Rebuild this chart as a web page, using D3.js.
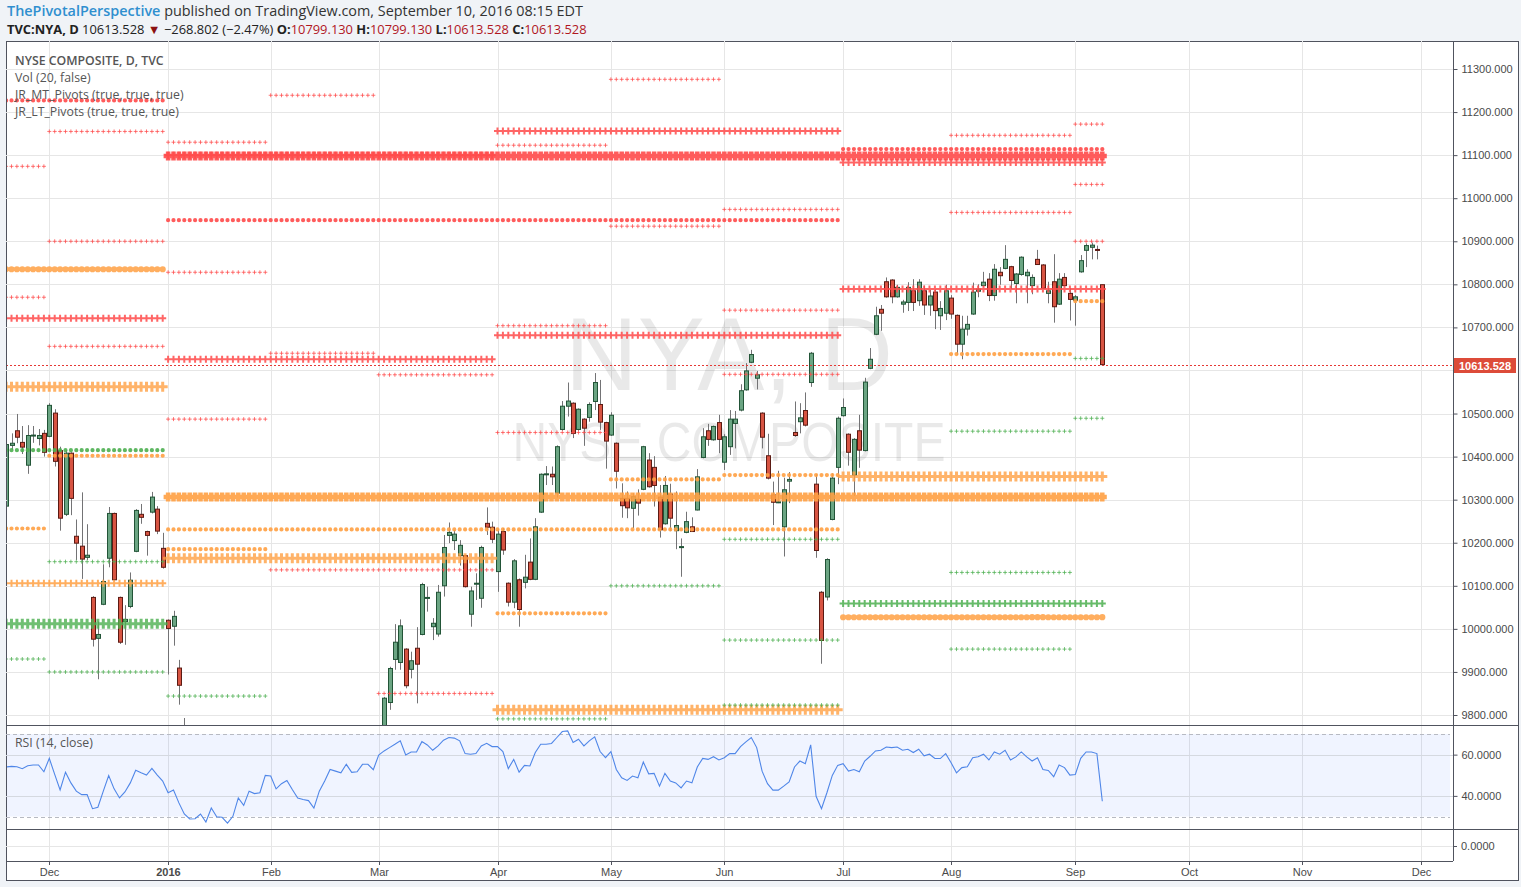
<!DOCTYPE html>
<html>
<head>
<meta charset="utf-8">
<script src="https://cdn.jsdelivr.net/npm/d3@7"></script>
<style>
  body { margin: 0; background: #f0f3f7; }
  svg { display: block; font-family: "Open Sans", sans-serif; }
</style>
</head>
<body>
<script>
// ---- data ----------------------------------------------------------------
const lastBar = "2016-09-09";
const holidays = ["2015-11-26", "2015-12-25", "2016-01-01", "2016-01-18", "2016-02-15",
  "2016-03-25", "2016-05-30", "2016-07-04", "2016-09-05"];

// [date, open, high, low, close]  (bars between Jan 8 and Mar 1 sit below the pane)
const ohlc = [
  ["2015-11-18", 10285, 10432, 10280, 10428], ["2015-11-19", 10426, 10454, 10415, 10431],
  ["2015-11-20", 10460, 10499, 10431, 10445], ["2015-11-23", 10433, 10471, 10406, 10422],
  ["2015-11-24", 10380, 10473, 10360, 10449], ["2015-11-25", 10449, 10471, 10432, 10450],
  ["2015-11-27", 10442, 10464, 10426, 10449], ["2015-11-30", 10454, 10462, 10400, 10410],
  ["2015-12-01", 10447, 10524, 10445, 10519], ["2015-12-02", 10501, 10510, 10377, 10389],
  ["2015-12-03", 10414, 10423, 10228, 10257], ["2015-12-04", 10266, 10415, 10262, 10408],
  ["2015-12-07", 10408, 10410, 10264, 10303], ["2015-12-08", 10215, 10254, 10160, 10199],
  ["2015-12-09", 10192, 10317, 10116, 10162], ["2015-12-10", 10166, 10243, 10160, 10171],
  ["2015-12-11", 10073, 10076, 9959, 9976], ["2015-12-14", 9978, 10017, 9883, 9987],
  ["2015-12-15", 10057, 10150, 10055, 10110], ["2015-12-16", 10164, 10283, 10143, 10268],
  ["2015-12-17", 10268, 10270, 10112, 10114], ["2015-12-18", 10073, 10075, 9965, 9969],
  ["2015-12-21", 10017, 10055, 9963, 10022], ["2015-12-22", 10052, 10131, 10048, 10113],
  ["2015-12-23", 10180, 10278, 10178, 10275], ["2015-12-24", 10266, 10290, 10244, 10259],
  ["2015-12-28", 10226, 10228, 10170, 10217], ["2015-12-29", 10271, 10318, 10268, 10306],
  ["2015-12-30", 10278, 10285, 10220, 10227], ["2015-12-31", 10187, 10223, 10140, 10143],
  ["2016-01-04", 10020, 10022, 9894, 10001], ["2016-01-05", 10006, 10042, 9961, 10029],
  ["2016-01-06", 9909, 9928, 9824, 9869], ["2016-01-07", 9740, 9793, 9660, 9700],
  ["2016-03-02", 9760, 9842, 9740, 9839], ["2016-03-03", 9829, 9912, 9812, 9908],
  ["2016-03-04", 9929, 10011, 9905, 9969], ["2016-03-07", 9922, 10022, 9905, 10007],
  ["2016-03-08", 9953, 9955, 9862, 9868], ["2016-03-09", 9906, 9947, 9885, 9926],
  ["2016-03-10", 9955, 10004, 9827, 9918], ["2016-03-11", 9987, 10107, 9985, 10103],
  ["2016-03-14", 10072, 10098, 10040, 10073], ["2016-03-15", 10005, 10025, 9974, 10013],
  ["2016-03-16", 9988, 10102, 9982, 10085], ["2016-03-17", 10100, 10218, 10075, 10189],
  ["2016-03-18", 10217, 10247, 10199, 10224], ["2016-03-21", 10205, 10230, 10183, 10220],
  ["2016-03-22", 10170, 10206, 10147, 10194], ["2016-03-23", 10170, 10172, 10096, 10098],
  ["2016-03-24", 10034, 10098, 10005, 10088], ["2016-03-28", 10105, 10129, 10067, 10106],
  ["2016-03-29", 10071, 10193, 10049, 10189], ["2016-03-30", 10245, 10282, 10218, 10236],
  ["2016-03-31", 10236, 10249, 10199, 10208], ["2016-04-01", 10133, 10231, 10086, 10220],
  ["2016-04-04", 10226, 10234, 10172, 10183], ["2016-04-05", 10106, 10108, 10052, 10062],
  ["2016-04-06", 10062, 10162, 10048, 10158], ["2016-04-07", 10114, 10117, 10005, 10045],
  ["2016-04-08", 10108, 10172, 10094, 10120], ["2016-04-11", 10155, 10210, 10113, 10115],
  ["2016-04-12", 10115, 10257, 10113, 10237], ["2016-04-13", 10271, 10361, 10269, 10359],
  ["2016-04-14", 10359, 10378, 10334, 10360], ["2016-04-15", 10359, 10377, 10334, 10353],
  ["2016-04-18", 10315, 10426, 10305, 10423], ["2016-04-19", 10463, 10529, 10460, 10517],
  ["2016-04-20", 10517, 10572, 10493, 10529], ["2016-04-21", 10524, 10526, 10443, 10454],
  ["2016-04-22", 10463, 10512, 10460, 10510], ["2016-04-25", 10487, 10489, 10425, 10466],
  ["2016-04-26", 10491, 10526, 10481, 10521], ["2016-04-27", 10528, 10594, 10508, 10572],
  ["2016-04-28", 10521, 10578, 10462, 10480], ["2016-04-29", 10479, 10481, 10372, 10436],
  ["2016-05-02", 10450, 10503, 10448, 10496], ["2016-05-03", 10431, 10433, 10326, 10366],
  ["2016-05-04", 10303, 10338, 10258, 10286], ["2016-05-05", 10303, 10319, 10257, 10281],
  ["2016-05-06", 10280, 10315, 10234, 10307], ["2016-05-09", 10301, 10324, 10263, 10292],
  ["2016-05-10", 10324, 10425, 10322, 10423], ["2016-05-11", 10392, 10408, 10328, 10330],
  ["2016-05-12", 10375, 10401, 10284, 10333], ["2016-05-13", 10306, 10334, 10212, 10230],
  ["2016-05-16", 10244, 10355, 10242, 10333], ["2016-05-17", 10313, 10337, 10227, 10257],
  ["2016-05-18", 10228, 10319, 10185, 10240], ["2016-05-19", 10191, 10210, 10121, 10191],
  ["2016-05-20", 10224, 10272, 10222, 10249], ["2016-05-23", 10237, 10259, 10225, 10226],
  ["2016-05-24", 10276, 10371, 10275, 10353], ["2016-05-25", 10398, 10466, 10396, 10446],
  ["2016-05-26", 10460, 10476, 10425, 10440], ["2016-05-27", 10439, 10472, 10437, 10470],
  ["2016-05-31", 10479, 10497, 10408, 10440], ["2016-06-01", 10387, 10452, 10369, 10446],
  ["2016-06-02", 10423, 10508, 10404, 10487], ["2016-06-03", 10477, 10506, 10419, 10487],
  ["2016-06-06", 10508, 10568, 10505, 10553], ["2016-06-07", 10555, 10617, 10553, 10599],
  ["2016-06-08", 10619, 10648, 10617, 10637], ["2016-06-09", 10582, 10599, 10556, 10590],
  ["2016-06-10", 10501, 10503, 10419, 10445], ["2016-06-13", 10402, 10453, 10347, 10350],
  ["2016-06-14", 10311, 10342, 10241, 10294], ["2016-06-15", 10295, 10367, 10292, 10295],
  ["2016-06-16", 10237, 10351, 10168, 10323], ["2016-06-17", 10343, 10364, 10292, 10347],
  ["2016-06-20", 10456, 10528, 10446, 10449], ["2016-06-21", 10481, 10524, 10454, 10490],
  ["2016-06-22", 10507, 10549, 10470, 10473], ["2016-06-23", 10572, 10643, 10562, 10640],
  ["2016-06-24", 10336, 10359, 10165, 10182], ["2016-06-27", 10085, 10088, 9919, 9973],
  ["2016-06-28", 10074, 10164, 10066, 10161], ["2016-06-29", 10254, 10361, 10252, 10350],
  ["2016-06-30", 10375, 10493, 10336, 10489], ["2016-07-01", 10495, 10535, 10493, 10514],
  ["2016-07-05", 10452, 10454, 10379, 10410], ["2016-07-06", 10357, 10443, 10309, 10440],
  ["2016-07-07", 10460, 10497, 10374, 10415], ["2016-07-08", 10414, 10583, 10412, 10573],
  ["2016-07-11", 10605, 10652, 10603, 10626], ["2016-07-12", 10684, 10748, 10682, 10727],
  ["2016-07-13", 10742, 10752, 10692, 10733], ["2016-07-14", 10806, 10816, 10769, 10771],
  ["2016-07-15", 10810, 10812, 10756, 10771], ["2016-07-18", 10771, 10799, 10769, 10793],
  ["2016-07-19", 10754, 10764, 10734, 10759], ["2016-07-20", 10758, 10805, 10738, 10793],
  ["2016-07-21", 10785, 10812, 10738, 10758], ["2016-07-22", 10762, 10812, 10750, 10805],
  ["2016-07-25", 10785, 10797, 10729, 10752], ["2016-07-26", 10752, 10787, 10727, 10773],
  ["2016-07-27", 10782, 10788, 10696, 10739], ["2016-07-28", 10727, 10761, 10694, 10744],
  ["2016-07-29", 10733, 10799, 10717, 10785], ["2016-08-01", 10768, 10775, 10720, 10731],
  ["2016-08-02", 10728, 10730, 10636, 10661], ["2016-08-03", 10661, 10727, 10626, 10696],
  ["2016-08-04", 10696, 10727, 10681, 10707], ["2016-08-05", 10731, 10804, 10729, 10782],
  ["2016-08-08", 10784, 10800, 10770, 10789], ["2016-08-09", 10797, 10829, 10795, 10805],
  ["2016-08-10", 10812, 10826, 10761, 10774], ["2016-08-11", 10774, 10847, 10762, 10835],
  ["2016-08-12", 10828, 10840, 10799, 10820], ["2016-08-15", 10837, 10891, 10835, 10858],
  ["2016-08-16", 10841, 10843, 10789, 10809], ["2016-08-17", 10802, 10826, 10756, 10824],
  ["2016-08-18", 10823, 10865, 10820, 10863], ["2016-08-19", 10820, 10835, 10756, 10828],
  ["2016-08-22", 10797, 10823, 10777, 10816], ["2016-08-23", 10858, 10880, 10845, 10846],
  ["2016-08-24", 10845, 10847, 10789, 10791], ["2016-08-25", 10779, 10806, 10756, 10785],
  ["2016-08-26", 10806, 10870, 10711, 10748], ["2016-08-29", 10754, 10826, 10752, 10812],
  ["2016-08-30", 10816, 10826, 10795, 10797], ["2016-08-31", 10779, 10791, 10716, 10765],
  ["2016-09-01", 10763, 10775, 10704, 10771], ["2016-09-02", 10829, 10868, 10827, 10855],
  ["2016-09-06", 10879, 10895, 10840, 10890], ["2016-09-07", 10886, 10897, 10858, 10891],
  ["2016-09-08", 10881, 10890, 10858, 10880], ["2016-09-09", 10799.13, 10799.13, 10613.528, 10613.528]
];

// RSI(14) one value per trading day starting at rsiStart
const rsiStart = "2015-11-18";
const rsiValues = [
  54.0, 54.3, 54.1, 53.2, 54.6, 55.0, 55.0, 51.7, 58.2, 50.4,
  42.9, 51.5, 46.3, 42.3, 40.6, 40.6, 33.8, 34.5, 42.3, 49.9,
  43.4, 39.0, 41.9, 46.3, 52.4, 51.2, 50.1, 53.3, 50.1, 47.2,
  41.5, 42.8, 36.6, 31.2, 28.8, 28.9, 31.2, 27.3, 34.1, 29.9,
  29.6, 26.8, 30.1, 39.0, 35.4, 42.3, 41.1, 41.5, 49.9, 49.6,
  43.4, 45.9, 47.5, 43.1, 39.0, 38.2, 37.7, 34.1, 42.3, 47.2,
  52.8, 52.0, 51.2, 55.3, 51.4, 51.7, 55.3, 55.3, 52.7, 59.8,
  61.8, 63.4, 65.0, 66.7, 59.8, 61.3, 61.3, 66.3, 64.7, 62.1,
  64.2, 67.0, 68.3, 68.0, 66.7, 60.5, 60.2, 60.5, 64.2, 65.5,
  63.9, 63.9, 61.5, 53.2, 57.7, 51.5, 54.8, 54.5, 61.0, 65.0,
  65.0, 65.4, 68.3,
  71.2, 71.5, 65.9, 67.5, 64.2, 66.7, 68.6, 61.5, 58.5, 61.5,
  52.8, 48.8, 47.5, 49.6, 48.8, 56.4, 50.7, 50.9, 44.7, 50.9,
  47.2, 46.3, 43.9, 47.2, 46.3, 54.0, 58.2, 57.7, 59.0, 57.4,
  58.5, 60.5, 60.5, 63.9, 66.2, 68.3, 63.4, 52.0, 45.9, 42.8,
  42.8, 44.7, 46.8, 54.0, 56.9, 55.6, 64.7, 39.8, 33.8, 41.5,
  49.9, 54.8, 55.6, 52.0, 52.8, 51.7, 56.9, 59.2, 61.8, 62.1,
  63.7, 63.4, 63.7, 62.1, 62.6, 61.0, 62.6, 59.4, 60.2, 58.1,
  58.1, 60.5, 56.1, 51.2, 53.7, 54.1, 58.5, 59.0, 60.2, 57.4,
  61.3, 60.2, 62.1, 57.4, 58.9, 61.3, 58.9, 56.9, 58.5, 52.8,
  52.3, 49.3, 55.0, 53.7, 50.1, 50.4, 58.2, 61.3, 61.3, 60.5,
  37.4
];

// pivot levels: [period, level]
const monthR = [["2015-11", 11074], ["2015-11", 10770], ["2015-12", 11155], ["2015-12", 10900],
  ["2015-12", 10656], ["2016-01", 11130], ["2016-01", 10828], ["2016-01", 10487],
  ["2016-02", 11239], ["2016-02", 10640], ["2016-02", 10137], ["2016-03", 10590],
  ["2016-03", 10137], ["2016-03", 9850], ["2016-04", 11123], ["2016-04", 10704],
  ["2016-04", 10456], ["2016-05", 11276], ["2016-05", 10935], ["2016-06", 10974],
  ["2016-06", 10740], ["2016-06", 10591], ["2016-08", 11146], ["2016-08", 10967],
  ["2016-09", 11172], ["2016-09", 11032], ["2016-09", 10900]];
const monthP = [["2015-11", 10233], ["2015-12", 10402], ["2016-01", 10185], ["2016-04", 10036],
  ["2016-05", 10347], ["2016-06", 10357], ["2016-08", 10638], ["2016-09", 10761]];
const monthS = [["2015-11", 9930], ["2015-12", 10156], ["2015-12", 9900], ["2016-01", 9844],
  ["2016-04", 9791], ["2016-05", 10100], ["2016-06", 10208], ["2016-06", 9974],
  ["2016-06", 9823], ["2016-08", 10459], ["2016-08", 10131], ["2016-08", 9953],
  ["2016-09", 10628], ["2016-09", 10489]];
const quarterDotR = [["2015Q4", 11227], ["2016Q3", 11114]];
const quarterCrossR = [["2015Q4", 10721], ["2016Q1", 11100], ["2016Q1", 10626], ["2016Q2", 11156],
  ["2016Q2", 10682], ["2016Q3", 11083], ["2016Q3", 10789]];
const quarterDotP = [["2015Q4", 10835], ["2016Q3", 10027]];
const quarterHeavyP = [["2015Q4", 10562], ["2016Q1", 10164], ["2016Q2", 9812], ["2016Q3", 10354]];
const quarterCrossP = [["2015Q4", 10106]];
const quarterDotS = [["2015Q4", 10415]];
const quarterHeavyS = [["2015Q4", 10012]];
const quarterCrossS = [["2016Q3", 10059]];
const halfR = [["2016H1", 10949]];
const halfP = [["2016H1", 10231]];
const yearR = [["2016", 11098]];
const yearP = [["2016", 10306]];

const priceTicks = [9800, 9900, 10000, 10100, 10200, 10300, 10400, 10500, 10600,
  10700, 10800, 10900, 11000, 11100, 11200, 11300];
const rsiTicks = [60, 40];
const monthStarts = ["2015-12", "2016-01", "2016-02", "2016-03", "2016-04", "2016-05", "2016-06",
  "2016-07", "2016-08", "2016-09", "2016-10", "2016-11", "2016-12"];
const monthLabels = ["Dec", "2016", "Feb", "Mar", "Apr", "May", "Jun", "Jul", "Aug", "Sep", "Oct", "Nov", "Dec"];
const lastClose = 10613.528;

// ---- layout ---------------------------------------------------------------
const W = 1521, H = 887;
const L = 6, R = 1453, FR = 1518, T = 41;
const priceBot = 725, rsiBot = 829, volBot = 861, axisBot = 880;

const fmt = d3.utcFormat("%Y-%m-%d");
const allDays = d3.utcDay.range(new Date(Date.UTC(2015, 9, 1)), new Date(Date.UTC(2016, 11, 31)))
  .filter(d => d.getUTCDay() !== 0 && d.getUTCDay() !== 6)
  .map(fmt)
  .filter(s => s > lastBar || !holidays.includes(s));
const base = allDays.indexOf("2015-12-01");
const idx = s => allDays.indexOf(s) - base;

const x = d3.scaleLinear().domain([0, idx(lastBar)]).range([49.3, 1102.3]);
const y = d3.scaleLinear().domain([9800, 11300]).range([715, 69]);
const yr = d3.scaleLinear().domain([30, 70]).range([816.5, 734]);

function periodRange(p) {
  let a, b;
  const pad = n => String(n).padStart(2, "0");
  if (/^\d{4}-\d{2}$/.test(p)) { a = p + "-01"; b = p + "-31"; }
  else if (p.includes("Q")) {
    const [yy, q] = p.split("Q"); const m0 = (q - 1) * 3 + 1;
    a = `${yy}-${pad(m0)}-01`; b = `${yy}-${pad(m0 + 2)}-31`;
  } else if (p.includes("H")) {
    const [yy, h] = p.split("H"); const m0 = (h - 1) * 6 + 1;
    a = `${yy}-${pad(m0)}-01`; b = `${yy}-${pad(m0 + 5)}-31`;
  } else { a = p + "-01-01"; b = p + "-12-31"; }
  const days = allDays.filter(s => s >= a && s <= b && s <= lastBar);
  return [idx(days[0]), idx(days[days.length - 1])];
}

const svg = d3.select("body").append("svg").attr("width", W).attr("height", H);

// chart frame
svg.append("rect").attr("x", L + 0.5).attr("y", T + 0.5).attr("width", FR - L).attr("height", axisBot - T)
  .attr("fill", "#fff").attr("stroke", "#50535e");

// gridlines
const grid = svg.append("g").attr("stroke", "#e6e6e6").attr("stroke-width", 1);
monthStarts.forEach(m => {
  const d = allDays.find(s => s.startsWith(m));
  const gx = Math.round(x(idx(d))) + 0.5;
  grid.append("line").attr("x1", gx).attr("x2", gx).attr("y1", T).attr("y2", volBot);
});
priceTicks.forEach(p => {
  grid.append("line").attr("x1", L).attr("x2", R).attr("y1", Math.round(y(p)) + 0.5).attr("y2", Math.round(y(p)) + 0.5);
});

// watermark
const wm = svg.append("g").attr("font-family", "'Liberation Sans', Arial, sans-serif")
  .attr("fill", "#000").attr("fill-opacity", 0.085).attr("text-anchor", "middle");
wm.append("text").attr("x", 729).attr("y", 390).attr("font-size", 104)
  .attr("textLength", 328).attr("lengthAdjust", "spacingAndGlyphs").text("NYA, D");
wm.append("text").attr("x", 729).attr("y", 461).attr("font-size", 56)
  .attr("textLength", 433).attr("lengthAdjust", "spacingAndGlyphs").text("NYSE COMPOSITE");

// clip for main pane
svg.append("clipPath").attr("id", "mainClip").append("rect")
  .attr("x", L + 1).attr("y", T + 1).attr("width", R - L - 1).attr("height", priceBot - T - 1);
const main = svg.append("g").attr("clip-path", "url(#mainClip)");

// candles
const candles = main.append("g");
ohlc.forEach(([d, o, h, l, c]) => {
  const cx = Math.round(x(idx(d)));
  const up = c >= o;
  candles.append("line").attr("x1", cx + 0.5).attr("x2", cx + 0.5)
    .attr("y1", y(h)).attr("y2", y(l)).attr("stroke", "#737375");
  const top = y(Math.max(o, c)), bot = y(Math.min(o, c));
  candles.append("rect").attr("x", cx - 1.5).attr("y", top).attr("width", 4)
    .attr("height", Math.max(bot - top, 1))
    .attr("fill", up ? "#6ba583" : "#d75442").attr("stroke", up ? "#225437" : "#5b1a13");
});

// pivots
const colors = { R: "#ff4a4a", P: "#ffa043", S: "#4caf50" };
const marks = {
  thin: { kind: "cross", a: 2, sw: 1, op: 0.75 },
  dot: { kind: "dot", r: 2.1, op: 0.9 },
  dotL: { kind: "dot", r: 3.1, op: 0.85 },
  cross: { kind: "cross", a: 3.5, sw: 2, op: 0.85 },
  heavy: { kind: "cross", a: 5, sw: 3, op: 0.8 },
  block: { kind: "cross", a: 4.5, sw: 4.5, op: 0.9 }
};
const series = [
  [yearR, "R", "block"], [yearP, "P", "block"],
  [halfR, "R", "dot"], [halfP, "P", "dot"],
  [quarterHeavyP, "P", "heavy"], [quarterHeavyS, "S", "heavy"],
  [quarterCrossR, "R", "cross"], [quarterCrossP, "P", "cross"], [quarterCrossS, "S", "cross"],
  [quarterDotR, "R", "dot"], [quarterDotP, "P", "dotL"], [quarterDotS, "S", "dot"],
  [monthR, "R", "thin"], [monthP, "P", "dot"], [monthS, "S", "thin"]
];
const piv = main.append("g");
series.forEach(([rows, role, style]) => {
  const m = marks[style];
  rows.forEach(([per, lvl]) => {
    const [i0, i1] = periodRange(per);
    const py = y(lvl);
    let d = "";
    for (let i = i0; i <= i1; i++) {
      const px = x(i);
      if (m.kind === "cross") d += `M${px - m.a},${py}H${px + m.a}M${px},${py - m.a}V${py + m.a}`;
      else d += `M${px - m.r},${py}a${m.r},${m.r} 0 1,0 ${2 * m.r},0a${m.r},${m.r} 0 1,0 ${-2 * m.r},0`;
    }
    const p = piv.append("path").attr("d", d).attr("opacity", m.op);
    if (m.kind === "cross") p.attr("fill", "none").attr("stroke", colors[role]).attr("stroke-width", m.sw);
    else p.attr("fill", colors[role]).attr("stroke", "none");
  });
});

// last price line
main.append("line").attr("x1", L).attr("x2", R).attr("y1", Math.round(y(lastClose)) + 0.5)
  .attr("y2", Math.round(y(lastClose)) + 0.5).attr("stroke", "#e53935").attr("stroke-dasharray", "2,2");

// RSI pane
svg.append("rect").attr("x", L + 1).attr("y", yr(70)).attr("width", R - L - 4)
  .attr("height", yr(30) - yr(70)).attr("fill", "#2962ff").attr("fill-opacity", 0.07);
rsiTicks.forEach(v => {
  svg.append("line").attr("x1", L).attr("x2", R).attr("y1", Math.round(yr(v)) + 0.5).attr("y2", Math.round(yr(v)) + 0.5)
    .attr("stroke", "#d5d9e0");
});
[70, 30].forEach(v => {
  svg.append("line").attr("x1", L).attr("x2", R - 3).attr("y1", Math.round(yr(v)) + 0.5).attr("y2", Math.round(yr(v)) + 0.5)
    .attr("stroke", "#b7bac2").attr("stroke-dasharray", "4,3");
});
const r0 = idx(rsiStart);
svg.append("clipPath").attr("id", "rsiClip").append("rect")
  .attr("x", L + 1).attr("y", priceBot + 1).attr("width", R - L - 1).attr("height", rsiBot - priceBot - 1);
svg.append("path").attr("clip-path", "url(#rsiClip)")
  .datum(rsiValues)
  .attr("d", d3.line().x((v, i) => x(r0 + i)).y(v => yr(v)))
  .attr("fill", "none").attr("stroke", "#4f86e8").attr("stroke-width", 1.1);

// third pane gridline
svg.append("line").attr("x1", L).attr("x2", R).attr("y1", 846.5).attr("y2", 846.5).attr("stroke", "#e6e6e6");

// pane separators and axis line
const sep = svg.append("g").attr("stroke", "#50535e");
[priceBot, rsiBot].forEach(v => sep.append("line").attr("x1", L).attr("x2", FR).attr("y1", v + 0.5).attr("y2", v + 0.5));
sep.append("line").attr("x1", L).attr("x2", R).attr("y1", volBot + 0.5).attr("y2", volBot + 0.5);
sep.append("line").attr("x1", R + 0.5).attr("x2", R + 0.5).attr("y1", T).attr("y2", volBot);

// right price axis (the 10600 label sits under the last-price tag)
const axisFont = "'Liberation Sans', Arial, sans-serif";
const pa = svg.append("g").attr("transform", `translate(${R + 0.5},0)`)
  .call(d3.axisRight(y).tickValues(priceTicks)
    .tickFormat(v => v === 10600 ? "" : d3.format(".3f")(v)).tickSize(4).tickPadding(4));
pa.select(".domain").remove();
pa.selectAll("line").attr("stroke", "#50535e");
pa.selectAll("text").attr("fill", "#4a4a4a").attr("font-size", 11).attr("font-family", axisFont);

const ra = svg.append("g").attr("transform", `translate(${R + 0.5},0)`)
  .call(d3.axisRight(yr).tickValues(rsiTicks).tickFormat(d3.format(".4f")).tickSize(4).tickPadding(4));
ra.select(".domain").remove();
ra.selectAll("line").attr("stroke", "#50535e");
ra.selectAll("text").attr("fill", "#4a4a4a").attr("font-size", 11).attr("font-family", axisFont);

svg.append("line").attr("x1", R).attr("x2", R + 4).attr("y1", 846.5).attr("y2", 846.5).attr("stroke", "#50535e");
svg.append("text").attr("x", R + 8).attr("y", 850).attr("fill", "#4a4a4a").attr("font-size", 11)
  .attr("font-family", axisFont).text("0.0000");

// last price label
svg.append("rect").attr("x", R + 1).attr("y", Math.round(y(lastClose)) - 7).attr("width", 62).attr("height", 15)
  .attr("fill", "#dd4b39");
svg.append("text").attr("x", R + 6).attr("y", Math.round(y(lastClose)) + 4.5).attr("fill", "#fff")
  .attr("font-size", 11).attr("font-weight", "bold").attr("font-family", axisFont).text(d3.format(".3f")(lastClose));

// time axis
const ta = svg.append("g").attr("font-family", axisFont).attr("font-size", 11).attr("fill", "#4a4a4a")
  .attr("text-anchor", "middle");
monthStarts.forEach((m, k) => {
  const d = allDays.find(s => s.startsWith(m));
  const tx = Math.round(x(idx(d))) + 0.5;
  svg.append("line").attr("x1", tx).attr("x2", tx).attr("y1", volBot).attr("y2", volBot + 4).attr("stroke", "#50535e");
  ta.append("text").attr("x", tx).attr("y", 876).attr("font-weight", monthLabels[k] === "2016" ? "bold" : null)
    .text(monthLabels[k]);
});

// legends
const lg = svg.append("g").attr("font-size", 12.3).attr("fill", "#555");
lg.append("text").attr("x", 15).attr("y", 65).attr("font-weight", 600).text("NYSE COMPOSITE, D, TVC");
lg.append("text").attr("x", 15).attr("y", 82).text("Vol (20, false)");
lg.append("text").attr("x", 15).attr("y", 99).text("JR_MT_Pivots (true, true, true)");
lg.append("text").attr("x", 15).attr("y", 116).text("JR_LT_Pivots (true, true, true)");
svg.append("text").attr("x", 15).attr("y", 747).attr("font-size", 12.3).attr("fill", "#555").text("RSI (14, close)");

// header
const h1 = svg.append("text").attr("x", 7).attr("y", 16).attr("font-size", 14.4).attr("fill", "#333");
h1.append("tspan").attr("fill", "#2f8fcf").attr("font-weight", 600).text("ThePivotalPerspective");
h1.append("tspan").text(" published on TradingView.com, September 10, 2016 08:15 EDT");
const h2 = svg.append("text").attr("x", 7).attr("y", 34).attr("font-size", 12.9).attr("fill", "#222");
h2.append("tspan").attr("font-weight", "bold").text("TVC:NYA, D");
h2.append("tspan").text(" 10613.528 ");
h2.append("tspan").attr("fill", "#8b1111").text("▼");
h2.append("tspan").text(" −268.802 (−2.47%) ");
[["O:", "10799.130"], ["H:", "10799.130"], ["L:", "10613.528"], ["C:", "10613.528"]].forEach(([k, v], i) => {
  h2.append("tspan").attr("font-weight", "bold").text((i ? " " : "") + k);
  h2.append("tspan").attr("fill", "#b0171f").text(v);
});
</script>
</body>
</html>
